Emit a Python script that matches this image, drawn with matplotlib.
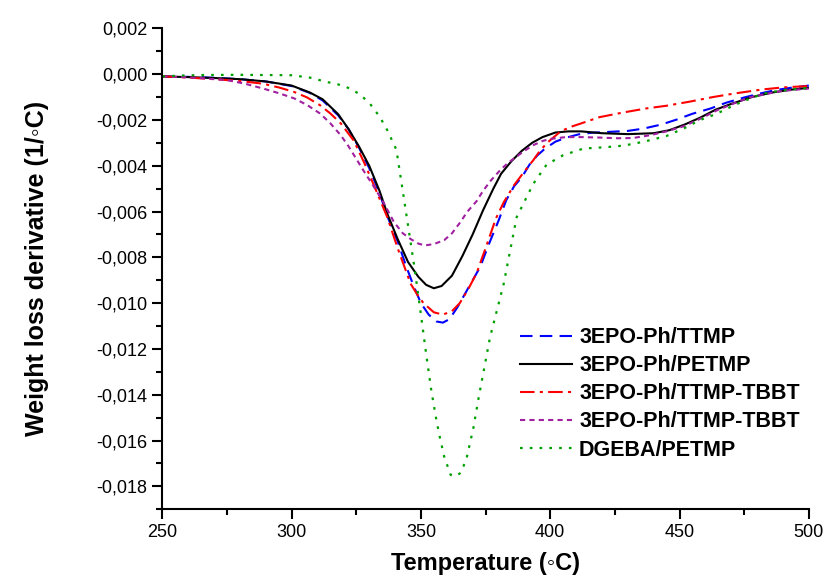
import numpy as np
import matplotlib.pyplot as plt
from matplotlib.ticker import MultipleLocator, FuncFormatter

plt.rcParams['font.family'] = ['Liberation Sans', 'DejaVu Sans']

# DTG curves, values in 1e-3 /°C
t_pet = [250, 260, 270, 280, 290, 300, 307, 312, 318, 322, 326, 330, 334, 337, 341, 345, 349, 352, 355, 358,
         362, 366, 370, 374, 378, 381, 385, 389, 393, 397, 402, 407, 412, 420, 430, 440, 446, 452, 458, 464,
         470, 478, 486, 493, 500]
d_pet = [-0.10, -0.13, -0.17, -0.22, -0.32, -0.50, -0.80, -1.10, -1.75, -2.4, -3.15, -4.0, -5.1, -6.1, -7.2,
         -8.2, -8.85, -9.2, -9.35, -9.25, -8.8, -7.95, -7.0, -5.95, -5.0, -4.35, -3.8, -3.35, -3.0, -2.75,
         -2.55, -2.5, -2.5, -2.58, -2.62, -2.58, -2.45, -2.2, -1.9, -1.55, -1.3, -1.0, -0.8, -0.68, -0.6]

t_ttmp = [250, 260, 270, 280, 290, 300, 307, 312, 318, 322, 326, 330, 334, 337, 341, 344, 347, 350, 353, 356,
          358.5, 361, 364, 367, 370, 373, 376, 380, 383, 386, 389, 392, 395, 398, 402, 406, 411, 416, 423, 430,
          436, 443, 449, 455, 462, 468, 475, 481, 487, 494, 500]
d_ttmp = [-0.10, -0.12, -0.16, -0.22, -0.32, -0.52, -0.82, -1.15, -1.8, -2.4, -3.2, -4.1, -5.2, -6.2, -7.3,
          -8.3, -9.2, -10.0, -10.5, -10.8, -10.85, -10.7, -10.2, -9.6, -9.0, -8.4, -7.5, -6.4, -5.5, -4.9,
          -4.5, -3.95, -3.55, -3.25, -2.95, -2.78, -2.63, -2.56, -2.52, -2.48, -2.38, -2.2, -1.98, -1.73,
          -1.5, -1.25, -1.02, -0.85, -0.7, -0.58, -0.5]

t_tbbt = [250, 260, 270, 280, 289, 295, 301, 306, 311, 315, 319, 324, 328, 332, 337, 341, 346, 349, 351, 355,
          358.5, 362, 365, 368, 371.5, 375, 379, 382, 386, 390, 393.5, 396, 399, 404, 408, 412, 419, 428, 437,
          445, 454, 463, 471, 482, 490, 500]
d_tbbt = [-0.10, -0.15, -0.22, -0.30, -0.42, -0.58, -0.78, -1.02, -1.36, -1.72, -2.15, -2.9, -3.85, -4.9,
          -6.25, -7.6, -9.15, -9.7, -10.0, -10.4, -10.5, -10.35, -10.0, -9.45, -8.7, -7.6, -6.3, -5.6, -4.85,
          -4.25, -3.75, -3.35, -2.98, -2.5, -2.3, -2.15, -1.88, -1.68, -1.5, -1.38, -1.2, -1.0, -0.85, -0.67,
          -0.58, -0.52]

t_tbbt2 = [250, 262, 275, 282, 289, 295, 301, 306, 311, 315, 319, 322, 325, 328, 332, 336, 339.5, 343, 346,
           349, 351.5, 355, 359, 362, 365, 368, 371.5, 374, 377, 381, 384, 387, 390, 393.5, 397, 400, 406, 412,
           419, 426, 432, 438.5, 445, 451.5, 458, 464.5, 471, 477, 484, 490, 500]
d_tbbt2 = [-0.10, -0.15, -0.26, -0.42, -0.63, -0.83, -1.06, -1.35, -1.72, -2.15, -2.67, -3.15, -3.7, -4.25,
           -4.95, -5.7, -6.45, -6.95, -7.2, -7.4, -7.48, -7.42, -7.25, -6.95, -6.5, -6.0, -5.55, -5.1, -4.65,
           -4.15, -3.85, -3.6, -3.35, -3.1, -2.92, -2.83, -2.75, -2.75, -2.77, -2.8, -2.79, -2.67, -2.5,
           -2.28, -1.95, -1.58, -1.28, -1.02, -0.85, -0.73, -0.63]

t_dgeba = [250, 258, 265, 280, 290, 300, 307, 313.5, 318, 321, 326, 330, 334, 337, 340.5, 342.5, 345, 347.5,
           350, 352, 354, 355.5, 357, 359, 361.5, 363.5, 365.5, 367.7, 370.3, 372.2, 376.7, 382, 387, 393.4,
           398.6, 405, 412.8, 420, 426, 432, 438, 445, 452, 458, 464, 471, 477, 482.4, 490, 500]
d_dgeba = [-0.10, -0.06, -0.04, -0.03, -0.04, -0.05, -0.15, -0.34, -0.45, -0.55, -0.85, -1.25, -1.85, -2.45,
           -3.3, -4.75, -6.6, -8.45, -10.5, -12.2, -13.8, -14.8, -15.7, -16.7, -17.5, -17.55, -17.4, -16.75,
           -15.44, -14.2, -11.5, -9.16, -6.25, -4.8, -3.95, -3.54, -3.25, -3.2, -3.15, -3.05, -2.9, -2.7,
           -2.35, -2.0, -1.75, -1.36, -1.08, -0.85, -0.7, -0.6]

fig = plt.figure(figsize=(8.24, 5.79), dpi=100)
ax = fig.add_axes([0.197, 0.1204, 0.7846, 0.8307])

ax.plot(t_ttmp, np.array(d_ttmp) * 1e-3, color='#0000ff', lw=1.5, dashes=(6, 3.5), label='3EPO-Ph/TTMP')
ax.plot(t_pet, np.array(d_pet) * 1e-3, color='black', lw=1.5, label='3EPO-Ph/PETMP')
ax.plot(t_tbbt, np.array(d_tbbt) * 1e-3, color='#ff0000', lw=1.5, dashes=(7, 2.5, 1.5, 2.5),
        label='3EPO-Ph/TTMP-TBBT')
ax.plot(t_tbbt2, np.array(d_tbbt2) * 1e-3, color='#a020a0', lw=1.5, dashes=(2.5, 2),
        label='3EPO-Ph/TTMP-TBBT')
ax.plot(t_dgeba, np.array(d_dgeba) * 1e-3, color='#00a000', lw=1.6, dashes=(1.2, 3.2), label='DGEBA/PETMP')

ax.set_xlim(250, 500)
ax.set_ylim(-0.019, 0.002)
ax.xaxis.set_major_locator(MultipleLocator(50))
ax.xaxis.set_minor_locator(MultipleLocator(25))
ax.yaxis.set_major_locator(MultipleLocator(0.002))
ax.yaxis.set_minor_locator(MultipleLocator(0.001))
ax.yaxis.set_major_formatter(FuncFormatter(lambda v, p: f'{v:.3f}'.replace('.', ',').replace('-0,000', '0,000')))

for s in ['top', 'right']:
    ax.spines[s].set_visible(False)
for s in ['left', 'bottom']:
    ax.spines[s].set_linewidth(1.5)
ax.tick_params(which='major', direction='out', length=7, width=1.5, labelsize=13)
ax.tick_params(which='minor', direction='out', length=4.5, width=1.5)

ax.set_xlabel('Temperature (\u25e6C)', fontsize=17, fontweight='bold', labelpad=8)
ax.set_ylabel('Weight loss derivative (1/\u25e6C)', fontsize=18, fontweight='bold', labelpad=34)

ax.legend(loc='center left', bbox_to_anchor=(0.553, 0.24), frameon=False,
          prop={'weight': 'bold', 'size': 15.5}, handlelength=2.4, handletextpad=0.35,
          labelspacing=0.33, borderpad=0, borderaxespad=0)

fig.savefig('out.png', dpi=100)
